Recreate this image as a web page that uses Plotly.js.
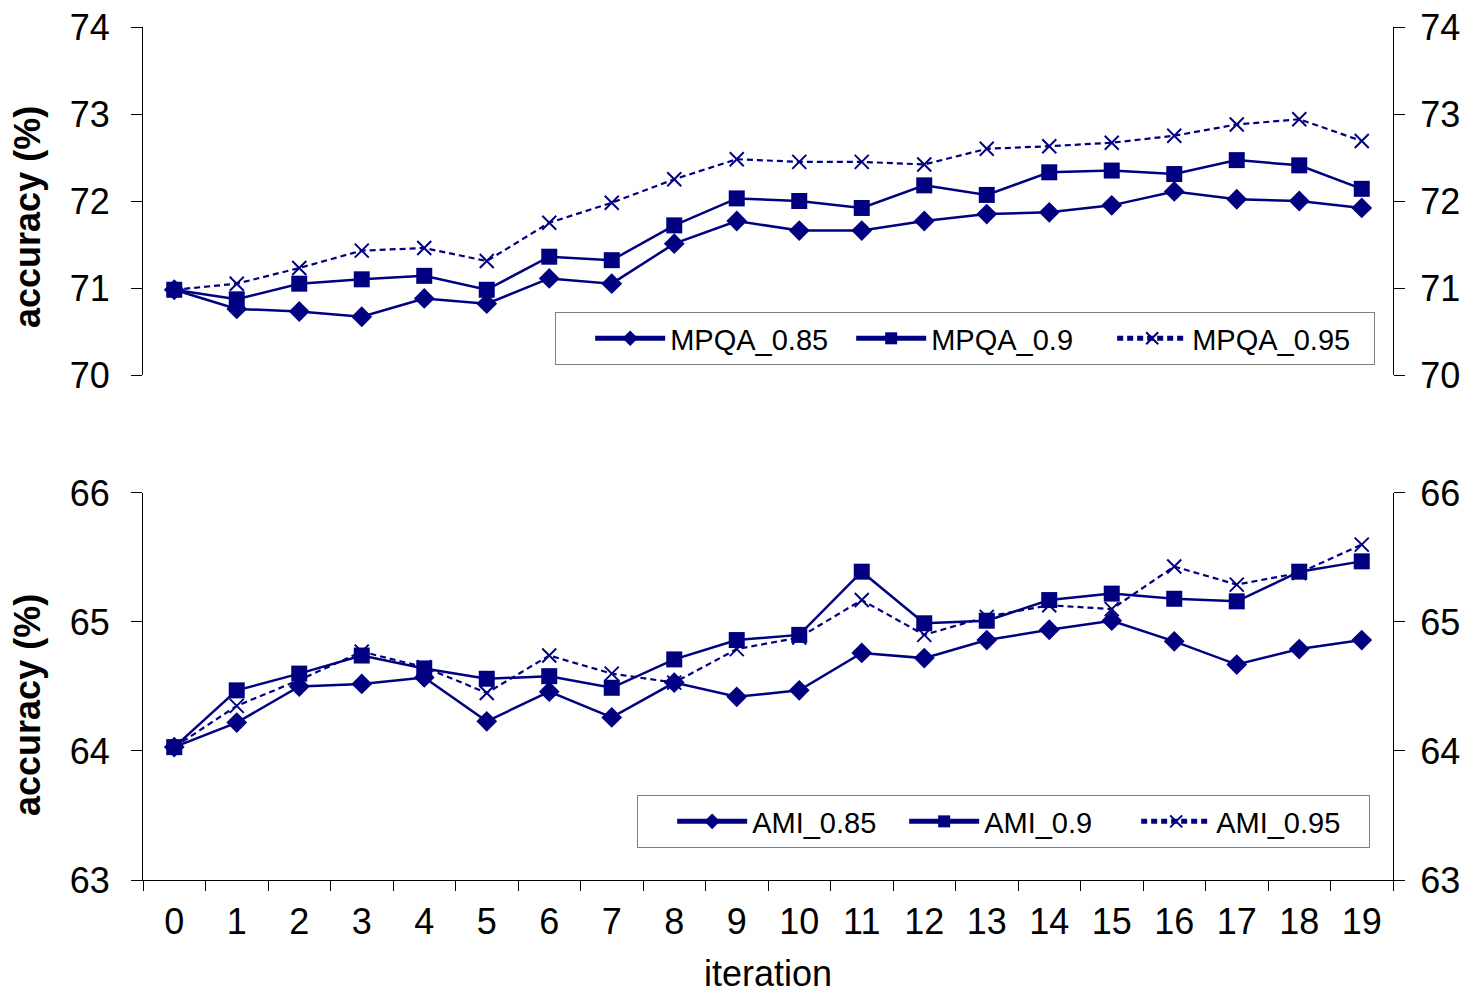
<!DOCTYPE html>
<html>
<head>
<meta charset="utf-8">
<script src="https://cdn.plot.ly/plotly-3.0.1.min.js"></script>
<style>html,body{margin:0;padding:0;background:#fff;}#chart{width:1473px;height:994px;}</style>
</head>
<body>
<div id="chart"></div>
<script>
const iterations = ['0','1','2','3','4','5','6','7','8','9','10','11','12','13','14','15','16','17','18','19'];

const mpqa085 = [70.98,70.76,70.73,70.67,70.88,70.82,71.11,71.05,71.51,71.77,71.66,71.66,71.77,71.85,71.87,71.95,72.11,72.02,72.00,71.92];
const mpqa090 = [70.98,70.87,71.05,71.10,71.14,70.98,71.36,71.32,71.72,72.03,72.00,71.92,72.18,72.07,72.33,72.35,72.31,72.47,72.41,72.14];
const mpqa095 = [70.98,71.05,71.23,71.43,71.46,71.31,71.75,71.98,72.25,72.48,72.45,72.45,72.42,72.60,72.63,72.67,72.75,72.88,72.94,72.69];

const ami085 = [64.03,64.22,64.50,64.52,64.57,64.23,64.46,64.26,64.53,64.42,64.47,64.76,64.72,64.86,64.94,65.01,64.85,64.67,64.79,64.86];
const ami090 = [64.03,64.47,64.60,64.74,64.64,64.56,64.58,64.49,64.71,64.86,64.90,65.39,64.99,65.01,65.17,65.22,65.18,65.16,65.39,65.47];
const ami095 = [64.03,64.35,64.55,64.77,64.65,64.45,64.74,64.60,64.53,64.79,64.88,65.17,64.90,65.04,65.13,65.10,65.43,65.29,65.38,65.60];

const navy = '#000080';
const FONT = 'Liberation Sans, Arial, sans-serif';

function tr(name, y, xa, ya, sym, dash, size, leg) {
  const open = sym.indexOf('open') >= 0;
  return {
    type: 'scatter', mode: 'lines+markers', name: name,
    x: iterations, y: y, xaxis: xa, yaxis: ya, legend: leg,
    line: {color: navy, width: open ? 2.2 : 2.5, dash: dash},
    marker: {symbol: sym, size: size, color: navy, line: {color: navy, width: open ? 2 : 0}}
  };
}

const data = [
  tr('MPQA_0.85', mpqa085, 'x', 'y', 'diamond', 'solid', 16, 'legend'),
  tr('MPQA_0.9', mpqa090, 'x', 'y', 'square', 'solid', 16, 'legend'),
  tr('MPQA_0.95', mpqa095, 'x', 'y3', 'x-thin-open', '6px,4px', 14, 'legend'),
  tr('AMI_0.85', ami085, 'x2', 'y2', 'diamond', 'solid', 16, 'legend2'),
  tr('AMI_0.9', ami090, 'x2', 'y2', 'square', 'solid', 16, 'legend2'),
  tr('AMI_0.95', ami095, 'x2', 'y4', 'x-thin-open', '6px,4px', 14, 'legend2')
];

const yBase = {
  dtick: 1, tickmode: 'linear', showgrid: false, zeroline: false,
  showline: true, linecolor: '#000', linewidth: 1,
  ticks: 'outside', ticklen: 11, tickcolor: '#000', tickwidth: 1,
  tickfont: {family: FONT, size: 36, color: '#000'},
  ticklabelstandoff: 14
};
const titleFont = {family: FONT, size: 36, color: '#000', weight: 'bold'};
const legendPad = {text: '\u00a0\u00a0\u00a0', side: 'left', font: {family: FONT, size: 29}};

const layout = {
  width: 1473, height: 994,
  margin: {l: 143, r: 80, t: 27, b: 114},
  paper_bgcolor: '#fff', plot_bgcolor: '#fff',
  font: {family: FONT, color: '#000'},
  showlegend: true,
  xaxis: {
    type: 'category', range: [-0.5, 19.5], domain: [0, 1], anchor: 'y',
    showline: false, showticklabels: false, ticks: '', showgrid: false, zeroline: false
  },
  xaxis2: {
    type: 'category', range: [-0.5, 19.5], domain: [0, 1], anchor: 'y2',
    showline: true, linecolor: '#000', linewidth: 1,
    ticks: 'outside', tickson: 'boundaries', ticklen: 10, tickcolor: '#000',
    showgrid: false, zeroline: false,
    tickfont: {family: FONT, size: 36, color: '#000'},
    ticklabelstandoff: 10,
    title: {text: 'iteration', font: {family: FONT, size: 36, color: '#000'}, standoff: 23}
  },
  yaxis: Object.assign({}, yBase, {range: [70, 74], domain: [0.592, 1], anchor: 'x'}),
  yaxis2: Object.assign({}, yBase, {range: [63, 66], domain: [0, 0.4537], anchor: 'x2'}),
  yaxis3: Object.assign({}, yBase, {
    range: [70, 74], overlaying: 'y', side: 'right', anchor: 'x', ticklabelstandoff: 8
  }),
  yaxis4: Object.assign({}, yBase, {
    range: [63, 66], overlaying: 'y2', side: 'right', anchor: 'x2', ticklabelstandoff: 8
  }),
  annotations: [
    {text: 'accuracy (%)', xref: 'paper', yref: 'paper', x: -0.092, y: 0.7773,
     xanchor: 'center', yanchor: 'middle', textangle: -90, showarrow: false, font: titleFont},
    {text: 'accuracy (%)', xref: 'paper', yref: 'paper', x: -0.092, y: 0.2052,
     xanchor: 'center', yanchor: 'middle', textangle: -90, showarrow: false, font: titleFont}
  ],
  legend: {
    orientation: 'h', x: 0.9856, xanchor: 'right', y: 0.6038, yanchor: 'bottom',
    bordercolor: '#808080', borderwidth: 1, bgcolor: '#fff',
    font: {family: FONT, size: 29, color: '#000'},
    entrywidth: 176, itemwidth: 70, itemsizing: 'constant', title: legendPad
  },
  legend2: {
    orientation: 'h', x: 0.9816, xanchor: 'right', y: 0.0375, yanchor: 'bottom',
    bordercolor: '#808080', borderwidth: 1, bgcolor: '#fff',
    font: {family: FONT, size: 29, color: '#000'},
    entrywidth: 147, itemwidth: 70, itemsizing: 'constant', title: legendPad
  }
};

Plotly.newPlot('chart', data, layout, {displayModeBar: false, staticPlot: true});
</script>
</body>
</html>
